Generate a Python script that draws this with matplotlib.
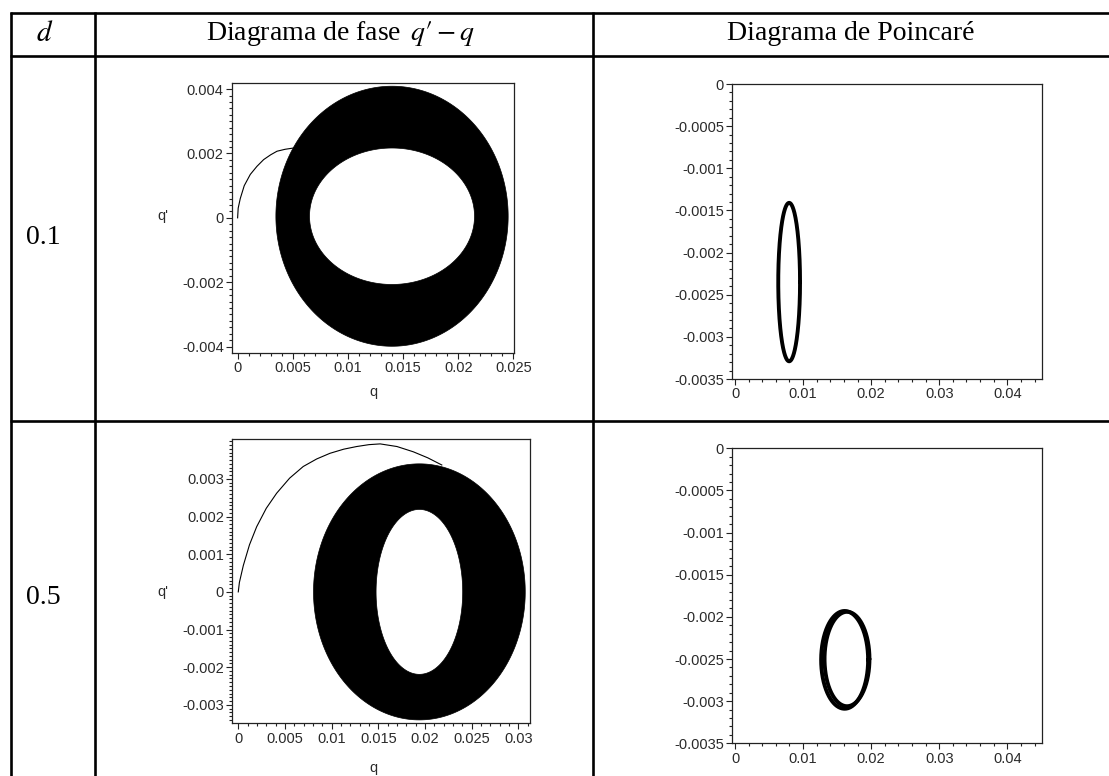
import numpy as np
import matplotlib
matplotlib.use("Agg")
import matplotlib.pyplot as plt
from matplotlib.path import Path
from matplotlib.patches import PathPatch
from matplotlib.lines import Line2D
from matplotlib.ticker import FixedLocator, MultipleLocator

plt.rcParams['mathtext.fontset'] = 'stix'
plt.rcParams['font.family'] = ['Liberation Sans', 'DejaVu Sans']

# ---------------- data ----------------
d_values = ["0.1", "0.5"]

# phase diagram: filled ring (outer / inner boundary ellipses)
ring_cq = [0.0140, 0.0194]
ring_cqp = [0.00005, 0.0]
ring_outer_a = [0.01053, 0.01134]
ring_outer_b = [0.00404, 0.00340]
ring_inner_a = [0.00748, 0.00464]
ring_inner_b = [0.00212, 0.00219]

# transient trajectories (q, q')
trans1_q = [0.0, 0.00005, 0.00024, 0.00060, 0.00115, 0.00175, 0.00236, 0.00300, 0.00357, 0.00430, 0.00507, 0.00550]
trans1_qp = [0.0, 0.00030, 0.00060, 0.00100, 0.00135, 0.00160, 0.00181, 0.00196, 0.00207, 0.00213, 0.00217, 0.00219]
trans2_q = [0.0, 0.00012, 0.00054, 0.00120, 0.00197, 0.00300, 0.00411, 0.00550, 0.00696, 0.00840, 0.00982, 0.01130,
            0.01268, 0.01400, 0.01520, 0.01700, 0.01875, 0.02030, 0.02180]
trans2_qp = [0.0, 0.00025, 0.00070, 0.00125, 0.00173, 0.00222, 0.00262, 0.00302, 0.00333, 0.00353, 0.00368, 0.00379,
             0.00386, 0.00391, 0.00393, 0.00386, 0.00372, 0.00356, 0.00337]

# Poincare sections: loops (center q, center q', semi q, semi q')
poin1_loops = [(0.00795, -0.00235, 0.00160, 0.00094)]
poin2_loops = [(0.01610, -0.00251, 0.00345, 0.00058), (0.01645, -0.00250, 0.00330, 0.00056)]

# axes limits and ticks
ph1_xlim, ph1_ylim = (-0.00051, 0.02506), (-0.00419, 0.00419)
ph1_xticks = [0, 0.005, 0.01, 0.015, 0.02, 0.025]
ph1_xlabels = ["0", "0.005", "0.01", "0.015", "0.02", "0.025"]
ph1_yticks = [-0.004, -0.002, 0, 0.002, 0.004]
ph1_ylabels = ["-0.004", "-0.002", "0", "0.002", "0.004"]

ph2_xlim, ph2_ylim = (-0.00064, 0.03125), (-0.00349, 0.00406)
ph2_xticks = [0, 0.005, 0.01, 0.015, 0.02, 0.025, 0.03]
ph2_xlabels = ["0", "0.005", "0.01", "0.015", "0.02", "0.025", "0.03"]
ph2_yticks = [-0.003, -0.002, -0.001, 0, 0.001, 0.002, 0.003]
ph2_ylabels = ["-0.003", "-0.002", "-0.001", "0", "0.001", "0.002", "0.003"]

po_xlim, po_ylim = (-0.0004, 0.04505), (-0.0035, 0.0)
po_xticks = [0, 0.01, 0.02, 0.03, 0.04]
po_xlabels = ["0", "0.01", "0.02", "0.03", "0.04"]
po_yticks = [0, -0.0005, -0.001, -0.0015, -0.002, -0.0025, -0.003, -0.0035]
po_ylabels = ["0", "-0.0005", "-0.001", "-0.0015", "-0.002", "-0.0025", "-0.003", "-0.0035"]

# ---------------- figure ----------------
W, H = 1109, 776
fig = plt.figure(figsize=(W / 100, H / 100), dpi=100)


def add_ax(l, t, r, b):
    return fig.add_axes([l / W, 1 - b / H, (r - l) / W, (b - t) / H])


def style(ax, xlim, ylim, xt, xl, yt, yl, xminor, yminor):
    ax.set_xlim(*xlim)
    ax.set_ylim(*ylim)
    ax.xaxis.set_major_locator(FixedLocator(xt))
    ax.set_xticklabels(xl)
    ax.yaxis.set_major_locator(FixedLocator(yt))
    ax.set_yticklabels(yl)
    ax.xaxis.set_minor_locator(MultipleLocator(xminor))
    ax.yaxis.set_minor_locator(MultipleLocator(yminor))
    ax.tick_params(which='both', direction='out', top=False, right=False, color='#222222',
                   labelsize=10.5, labelcolor='#2a2a2a', width=0.8, pad=1.5)
    ax.tick_params(which='major', length=4.5)
    ax.tick_params(which='minor', length=2.5)
    for s in ax.spines.values():
        s.set_linewidth(0.9)
        s.set_color('#222222')


def ring(ax, i):
    t = np.linspace(0, 2 * np.pi, 500)
    ox = ring_cq[i] + ring_outer_a[i] * np.cos(t)
    oy = ring_cqp[i] + ring_outer_b[i] * np.sin(t)
    ix = ring_cq[i] + ring_inner_a[i] * np.cos(t[::-1])
    iy = ring_cqp[i] + ring_inner_b[i] * np.sin(t[::-1])
    verts = np.vstack([np.column_stack([ox, oy]), np.column_stack([ix, iy])])
    n = len(t)
    codes = [Path.MOVETO] + [Path.LINETO] * (n - 1) + [Path.MOVETO] + [Path.LINETO] * (n - 1)
    ax.add_patch(PathPatch(Path(verts, codes), facecolor='black', edgecolor='black', lw=0.5))


def loops(ax, lst):
    t = np.linspace(0, 2 * np.pi, 400)
    for cq, cqp, a, b in lst:
        ax.plot(cq + a * np.cos(t), cqp + b * np.sin(t), color='black', lw=2.8,
                solid_capstyle='round', solid_joinstyle='round')


# top-left phase
ax1 = add_ax(232, 83, 514, 352.7)
style(ax1, ph1_xlim, ph1_ylim, ph1_xticks, ph1_xlabels, ph1_yticks, ph1_ylabels, 0.001, 0.0002)
ring(ax1, 0)
ax1.plot(trans1_q, trans1_qp, color='black', lw=0.8)
ax1.text(-0.245, 0.507, "q'", transform=ax1.transAxes, ha='center', va='center', fontsize=10.5, color='#2a2a2a')
ax1.text(0.5, -0.146, "q", transform=ax1.transAxes, ha='center', va='center', fontsize=10.5, color='#2a2a2a')

# top-right poincare
ax2 = add_ax(732.3, 84, 1041.7, 379)
style(ax2, po_xlim, po_ylim, po_xticks, po_xlabels, po_yticks, po_ylabels, 0.002, 0.0001)
loops(ax2, poin1_loops)

# bottom-left phase
ax3 = add_ax(232.3, 439, 530, 723.3)
style(ax3, ph2_xlim, ph2_ylim, ph2_xticks, ph2_xlabels, ph2_yticks, ph2_ylabels, 0.001, 0.0001)
ring(ax3, 1)
ax3.plot(trans2_q, trans2_qp, color='black', lw=0.8)
ax3.text(-0.233, 0.462, "q'", transform=ax3.transAxes, ha='center', va='center', fontsize=10.5, color='#2a2a2a')
ax3.text(0.473, -0.157, "q", transform=ax3.transAxes, ha='center', va='center', fontsize=10.5, color='#2a2a2a')

# bottom-right poincare
ax4 = add_ax(732.3, 448.3, 1041.7, 743.3)
style(ax4, po_xlim, po_ylim, po_xticks, po_xlabels, po_yticks, po_ylabels, 0.002, 0.0001)
loops(ax4, poin2_loops)

# ---------------- table lines ----------------
def hline(y, x0=10, x1=W):
    fig.add_artist(Line2D([x0 / W, x1 / W], [1 - y / H, 1 - y / H], transform=fig.transFigure,
                          color='black', lw=1.9, solid_capstyle='butt'))


def vline(x, y0=12, y1=H):
    fig.add_artist(Line2D([x / W, x / W], [1 - y0 / H, 1 - y1 / H], transform=fig.transFigure,
                          color='black', lw=1.9, solid_capstyle='butt'))


hline(12.5)
hline(55.5)
hline(421)
vline(10.5)
vline(95)
vline(593)

# ---------------- header / row texts ----------------
serif = ['Liberation Serif', 'DejaVu Serif']
fig.text(45 / W, 1 - 34 / H, "$d$", ha='center', va='center', fontsize=21, family=serif)
fig.text(340 / W, 1 - 34 / H, "Diagrama de fase $\\,q\\prime - q$", ha='center', va='center', fontsize=20, family=serif)
fig.text(851 / W, 1 - 34 / H, "Diagrama de Poincaré", ha='center', va='center', fontsize=20, family=serif)
row_y = [238, 598]
for lab, yy in zip(d_values, row_y):
    fig.text(43 / W, 1 - yy / H, lab, ha='center', va='center', fontsize=20, family=serif)

fig.savefig("out.png", dpi=100)
